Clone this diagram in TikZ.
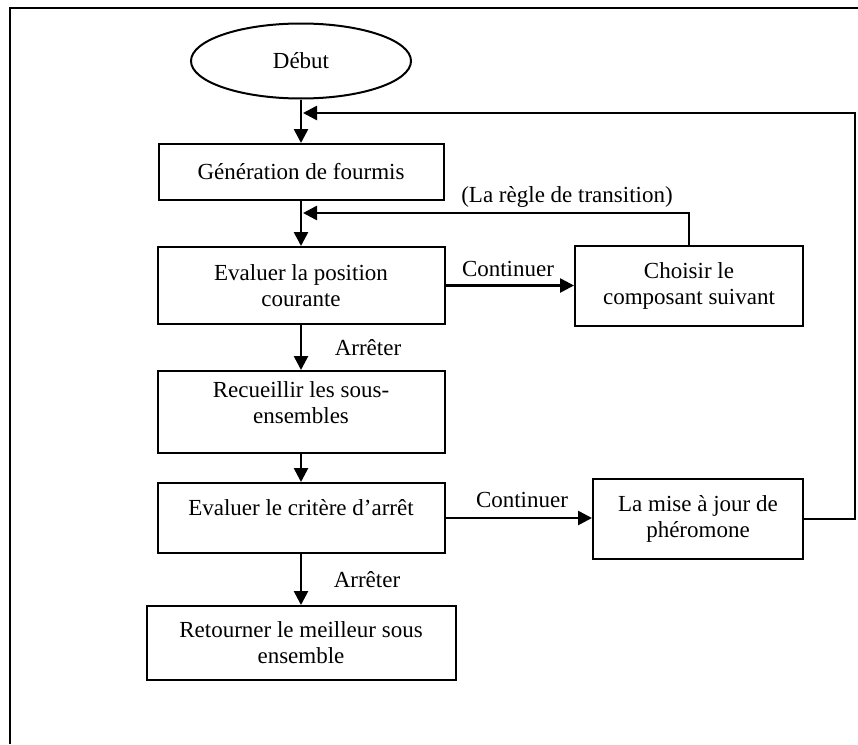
\documentclass[tikz,border=0pt]{standalone}
\usepackage{fontspec}
\setmainfont{Liberation Serif}
\usetikzlibrary{shapes.geometric,arrows.meta}

\begin{document}
\begin{tikzpicture}[x=1pt,y=-1pt,
  font=\fontsize{23}{26}\selectfont,
  box/.style={draw,line width=2pt,rectangle,inner sep=0pt,align=center},
  flow/.style={line width=2.6pt,-{Triangle[length=14pt,width=14pt]}},
  lbl/.style={inner sep=0pt}
]
\useasboundingbox (0,0) rectangle (858,744);

% outer frame
\draw[line width=1.8pt] (10,744) |- (858,8);

% main column
\node[draw,ellipse,line width=2pt,minimum width=220pt,minimum height=75pt,inner sep=0pt]
  (debut) at (301,61) {Début};
\node[box,minimum width=285pt,minimum height=56pt] (gen) at (301,172) {Génération de fourmis};
\node[box,minimum width=287pt,minimum height=77pt] (eval) at (301,285.5) {Evaluer la position\\courante};
\node[box,minimum width=287pt,minimum height=82pt] (recu) at (301,412) {Recueillir les sous-\\ensembles\\[-8pt]~};
\node[box,minimum width=287pt,minimum height=70pt] (crit) at (301,518) {Evaluer le critère d’arrêt\\[-4pt]~};
\node[box,minimum width=309pt,minimum height=74pt] (ret) at (301,643) {Retourner le meilleur sous\\ensemble};

% side column
\node[box,minimum width=228pt,minimum height=80pt] (choix) at (689,286) {Choisir le\\composant suivant};
\node[box,minimum width=210pt,minimum height=80pt] (maj) at (698,519) {La mise à jour de\\phéromone};

% junctions on the main line
\coordinate (j1) at (301,113);
\coordinate (j2) at (301,213);
\coordinate (rt) at (855,113);

% forward flow
\draw[flow] (debut) -- (gen);
\draw[flow] (gen) -- (eval);
\draw[flow] (eval) -- (recu);
\draw[flow] (recu) -- (crit);
\draw[flow] (crit) -- (ret);
\draw[flow] (eval.east) -- (eval.east -| choix.west);
\draw[flow] (crit.east) -- (crit.east -| maj.west);

% loops back
\draw[flow,shorten >=2pt] (choix.north) |- (j2);
\draw[flow,shorten >=2pt] (maj.east) -| (rt) -- (j1);

% labels
\node[lbl] (tcont1) at (508,269) {Continuer};
\node[lbl] (tcont2) at (522,500) {Continuer};
\node[lbl] (tarr1) at (368,348) {Arrêter};
\node[lbl] (tarr2) at (367,580) {Arrêter};
\node[lbl] (tregle) at (567,197) {(La règle de transition)};
\end{tikzpicture}
\end{document}
